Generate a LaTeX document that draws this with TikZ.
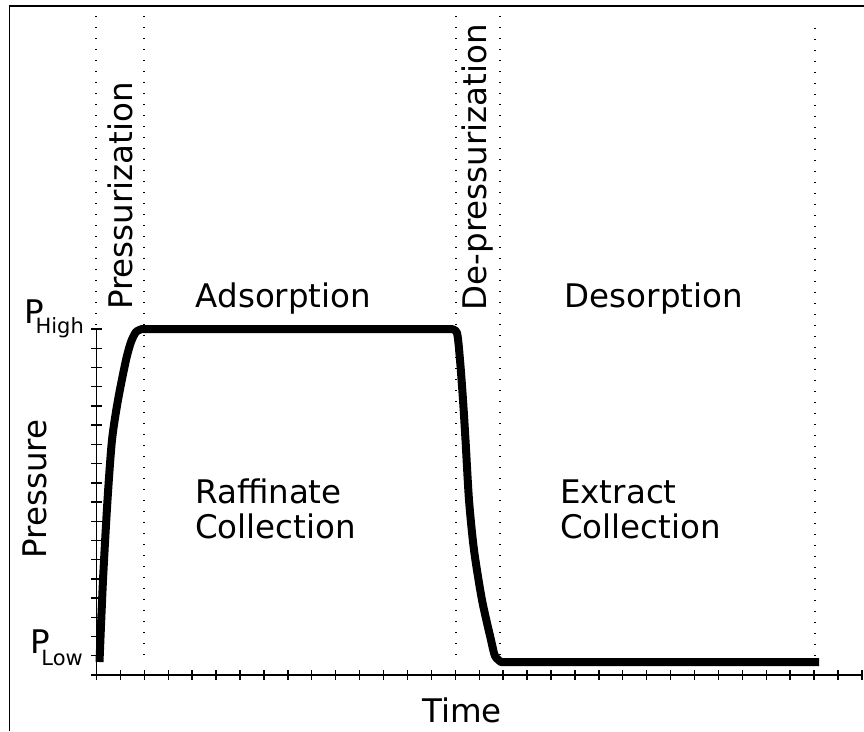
\documentclass[tikz,border=0pt]{standalone}
\usepackage{fontspec}
\setmainfont{DejaVu Sans}
\begin{document}
\begin{tikzpicture}[x=1pt,y=-1pt,
  lbl/.style={font=\fontsize{32.5}{36}\selectfont, inner sep=0pt, text=black},
  sublbl/.style={font=\fontsize{21}{24}\selectfont},
  frameline/.style={line width=1.5pt},
  axisline/.style={line width=1.8pt},
  tickline/.style={line width=1.4pt},
  phase/.style={line width=1.4pt, dash pattern=on 1.4pt off 9.6pt},
  pcurve/.style={line width=8pt, line join=round, line cap=butt}]
\useasboundingbox (0,0) rectangle (864,731);
\fill[white] (0,0) rectangle (864,731);

% outer frame (left and top edges)
\draw[frameline] (9.5,731) -- (9.5,6) -- (864,6);

% phase boundaries
\draw[phase] (96,16) -- (96,329);
\draw[phase] (144,16) -- (144,662);
\draw[phase] (456,16) -- (456,662);
\draw[phase] (500,16) -- (500,662);
\draw[phase] (815,28) -- (815,662);

% axes with ticks
\coordinate (origin) at (96.5,675);
\coordinate (xend) at (862,675);
\coordinate (ytop) at (96.5,328);
\draw[axisline] (ytop) -- (origin) -- (xend);
\foreach \k in {0,...,32}
  \draw[tickline] (96.5+\k*23.92,670) -- (96.5+\k*23.92,680);
\foreach \k in {0,...,18}
  \draw[tickline] (91,675-\k*19.22) -- (102,675-\k*19.22);

% pressure history
\draw[pcurve] plot[smooth, tension=0.45] coordinates {(99.5,662) (103,580) (107.5,500) (112,440) (118,400) (126,360) (131,342) (136,332) (142,329)}
  -- (451,329)
  -- plot[smooth, tension=0.45] coordinates {(451,329) (457,333) (460,360) (463,400) (465.5,440) (469,500) (474,550) (482,600) (491,640) (495,656) (501,662)}
  -- (819,662);

% phase names
\node[lbl, rotate=90] (pres) at (120,196) {Pressurization};
\node[lbl, rotate=90] (depres) at (478,167) {De-pressurization};
\node[lbl, anchor=base] (ads) at (283.5,307) {Adsorption};
\node[lbl, anchor=base] (des) at (654,307) {Desorption};
\node[lbl, anchor=base west, align=left] (raff) at (195,503) {Raffinate};
\node[lbl, anchor=base west] (raffc) at (195,538) {Collection};
\node[lbl, anchor=base west] (extr) at (560,503) {Extract};
\node[lbl, anchor=base west] (extrc) at (560,538) {Collection};

% axis labels
\node[lbl, rotate=90] (ylab) at (35,489) {Pressure};
\node[lbl, anchor=base] (xlab) at (462,722) {Time};
\node[lbl, anchor=base east] (phigh) at (84,323) {P\kern-0.25em\raisebox{-10pt}{\fontsize{21}{24}\selectfont High}};
\node[lbl, anchor=base east] (plow) at (83,653) {P\kern-0.28em\raisebox{-12pt}{\fontsize{21}{24}\selectfont Low}};
\end{tikzpicture}
\end{document}
